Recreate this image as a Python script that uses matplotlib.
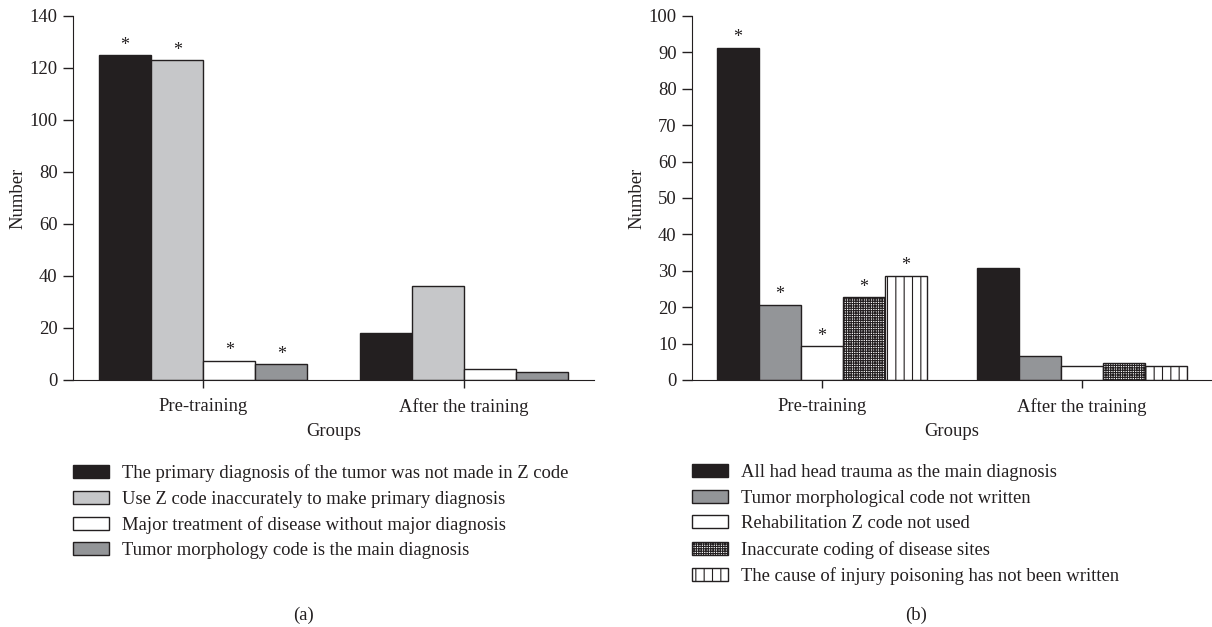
import numpy as np
import matplotlib
matplotlib.use("Agg")
from matplotlib import pyplot as plt
from matplotlib.patches import Patch

# data
groups = ["Pre-training", "After the training"]

labels_a = ["The primary diagnosis of the tumor was not made in Z code",
            "Use Z code inaccurately to make primary diagnosis",
            "Major treatment of disease without major diagnosis",
            "Tumor morphology code is the main diagnosis"]
pre_a = [125, 123, 7.4, 6]
after_a = [18, 36, 4.1, 3.1]

labels_b = ["All had head trauma as the main diagnosis",
            "Tumor morphological code not written",
            "Rehabilitation Z code not used",
            "Inaccurate coding of disease sites",
            "The cause of injury poisoning has not been written"]
pre_b = [91.3, 20.7, 9.3, 22.7, 28.7]
after_b = [30.7, 6.6, 3.9, 4.8, 3.9]

# styles
ink = "#231f20"
colors_a = [ink, "#c6c7c9", "white", "#939598"]
hatches_a = [None, None, None, None]
colors_b = [ink, "#939598", "white", "white", "white"]
hatches_b = [None, None, None, "+++++++", "||"]

plt.rcParams["font.family"] = ["Liberation Serif", "DejaVu Serif"]
plt.rcParams["font.size"] = 13.4
plt.rcParams["hatch.linewidth"] = 0.8
plt.rcParams["text.color"] = ink
plt.rcParams["axes.labelcolor"] = ink
plt.rcParams["xtick.color"] = ink
plt.rcParams["ytick.color"] = ink

fig = plt.figure(figsize=(12.12, 6.27), dpi=100)
ax_a = fig.add_axes([73 / 1212, 1 - 380 / 627, 521 / 1212, 364 / 627])
ax_b = fig.add_axes([692 / 1212, 1 - 380 / 627, 520 / 1212, 364 / 627])


def draw(ax, pre, after, labels, colors, hatches, width, ymax, ystep):
    n = len(pre)
    x = np.arange(len(groups))
    handles = []
    for i in range(n):
        pos = x + (i - (n - 1) / 2) * width
        vals = [pre[i], after[i]]
        ax.bar(pos, vals, width, color=colors[i], edgecolor=ink,
               linewidth=1.0, hatch=hatches[i])
        # star above each pre-training bar
        ax.annotate("*", (pos[0], pre[i]), xytext=(0, 1),
                    textcoords="offset points", ha="center", va="bottom",
                    fontsize=13)
        handles.append(Patch(facecolor=colors[i], edgecolor=ink,
                             linewidth=1.0, hatch=hatches[i], label=labels[i]))

    ax.set_xlim(-0.5, 1.5)
    ax.set_ylim(0, ymax)
    ax.set_yticks(np.arange(0, ymax + 1, ystep))
    ax.set_xticks(x)
    ax.set_xticklabels(groups)
    ax.spines["top"].set_visible(False)
    ax.spines["right"].set_visible(False)
    ax.spines["left"].set_color(ink)
    ax.spines["bottom"].set_color(ink)
    ax.tick_params(axis="y", length=7, width=1, pad=4)
    ax.tick_params(axis="x", length=6, width=1, pad=7)
    ax.set_ylabel("Number", labelpad=2)
    ax.set_xlabel("Groups", labelpad=5)
    ax.legend(handles=handles, loc="upper left", bbox_to_anchor=(0, -0.232),
              frameon=False, borderpad=0, borderaxespad=0,
              handlelength=1.95, handleheight=0.7, handletextpad=0.7,
              labelspacing=0.45)


draw(ax_a, pre_a, after_a, labels_a, colors_a, hatches_a, 0.2, 140, 20)
draw(ax_b, pre_b, after_b, labels_b, colors_b, hatches_b, 42 / 260, 100, 10)
ax_b.spines["bottom"].set_clip_on(False)

fig.text(0.25, 1 - 615 / 627, "(a)", ha="center", va="center")
fig.text(0.756, 1 - 615 / 627, "(b)", ha="center", va="center")

fig.savefig("out.png", dpi=100)
